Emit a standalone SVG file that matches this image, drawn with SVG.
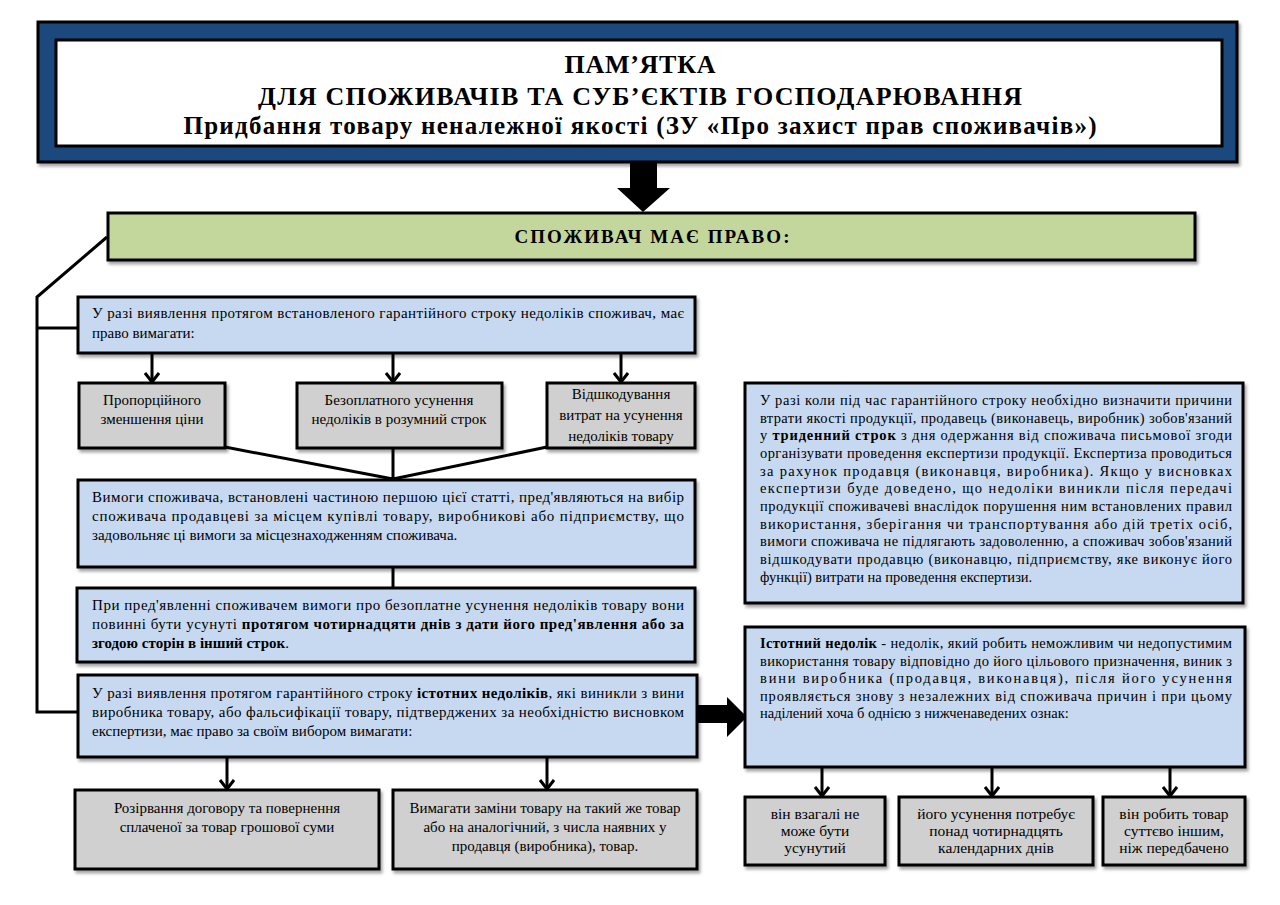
<svg xmlns="http://www.w3.org/2000/svg" width="1280" height="905" viewBox="0 0 1280 905">
<defs>
<style>
.t{font-family:"Liberation Serif","Times New Roman",serif;font-size:15px;fill:#000}
.r{font-size:14.5px}
.g{font-size:15.5px}
.h{font-size:26px}
.h3{font-size:25px}
.gh{font-size:19px}
.b{font-weight:bold}
.c{text-anchor:middle}
.box{stroke:#000;stroke-width:3}
.blue{fill:#C6D9F1}
.gray{fill:#D0D0D0}
.green{fill:#C3D69B}
.navy{fill:#1F497D}
.ln{fill:none;stroke:#000;stroke-width:3}
.ar{fill:none;stroke:#000;stroke-width:3;marker-end:url(#arr)}
</style>
<filter id="sh" x="-5%" y="-5%" width="110%" height="120%">
<feDropShadow dx="2" dy="3" stdDeviation="1.5" flood-color="#000" flood-opacity="0.35"/>
</filter>
<marker id="arr" viewBox="0 0 14 16" refX="11" refY="8" markerWidth="14" markerHeight="16" markerUnits="userSpaceOnUse" orient="auto">
<path d="M2,1 L11,8 L2,15" fill="none" stroke="#000" stroke-width="3"/>
</marker>
</defs>
<rect width="1280" height="905" fill="#fff"/>

<g id="title">
<rect class="box navy" x="38" y="22" width="1199" height="140" filter="url(#sh)"/>
<rect class="box" x="56" y="40" width="1166" height="106" fill="#fff"/>
<text class="t h b c" x="640" y="73" textLength="151">ПАМ’ЯТКА</text>
<text class="t h b c" x="640" y="105" textLength="764">ДЛЯ СПОЖИВАЧІВ ТА СУБ’ЄКТІВ ГОСПОДАРЮВАННЯ</text>
<text class="t h3 b c" x="640" y="134" textLength="913">Придбання товару неналежної якості (ЗУ «Про захист прав споживачів»)</text>
</g>

<g id="connectors">
<polygon points="630,161 657,161 657,188 670,188 643,212 617,188 630,188" fill="#000"/>
<polygon points="697,705 727,705 727,697 747,717 727,737 727,723 697,723" fill="#000"/>
<path class="ln" d="M107,237 L37,297 L37,712 L78,712"/>
<path class="ln" d="M37,328 L79,328"/>
<path class="ar" d="M152,353 L152,382"/>
<path class="ar" d="M393,353 L393,382"/>
<path class="ar" d="M621,353 L621,382"/>
<path class="ln" d="M225,447 L393,479 M393,448 L393,479 M547,447 L393,479"/>
<path class="ln" d="M393,567 L393,588"/>
<path class="ar" d="M227,757 L227,789"/>
<path class="ar" d="M547,757 L547,789"/>
<path class="ar" d="M822,767 L822,796"/>
<path class="ar" d="M992,767 L992,796"/>
<path class="ar" d="M1170,767 L1170,796"/>
</g>

<g id="consumer-right">
<rect class="box green" x="108" y="213" width="1087" height="47" filter="url(#sh)"/>
<text class="t gh b c" x="652" y="243" textLength="275">СПОЖИВАЧ МАЄ ПРАВО:</text>
</g>

<g id="warranty-defects">
<rect class="box blue" x="78" y="297" width="617" height="56" filter="url(#sh)"/>
<text class="t" x="92" y="318" textLength="592">У разі виявлення протягом встановленого гарантійного строку недоліків споживач, має</text>
<text class="t" x="92" y="338">право вимагати:</text>
</g>

<g id="price-reduction">
<rect class="box gray" x="79" y="383" width="146" height="65" filter="url(#sh)"/>
<text class="t c" x="152" y="405">Пропорційного</text>
<text class="t c" x="152" y="424">зменшення ціни</text>
</g>

<g id="free-repair">
<rect class="box gray" x="297" y="383" width="205" height="65" filter="url(#sh)"/>
<text class="t c" x="399" y="405">Безоплатного усунення</text>
<text class="t c" x="399" y="424">недоліків в розумний строк</text>
</g>

<g id="repair-costs">
<rect class="box gray" x="547" y="383" width="148" height="65" filter="url(#sh)"/>
<text class="t c" x="621" y="399">Відшкодування</text>
<text class="t c" x="621" y="420">витрат на усунення</text>
<text class="t c" x="621" y="441">недоліків товару</text>
</g>

<g id="claims-place">
<rect class="box blue" x="78" y="480" width="617" height="87" filter="url(#sh)"/>
<text class="t" x="92" y="502" textLength="592">Вимоги споживача, встановлені частиною першою цієї статті, пред'являються на вибір</text>
<text class="t" x="92" y="521" textLength="592">споживача продавцеві за місцем купівлі товару, виробникові або підприємству, що</text>
<text class="t" x="92" y="540">задовольняє ці вимоги за місцезнаходженням споживача.</text>
</g>

<g id="fourteen-days">
<rect class="box blue" x="77" y="588" width="618" height="74" filter="url(#sh)"/>
<text class="t" x="92" y="610" textLength="592">При пред'явленні споживачем вимоги про безоплатне усунення недоліків товару вони</text>
<text class="t" x="92" y="629" textLength="592">повинні бути усунуті <tspan class="b">протягом чотирнадцяти днів з дати його пред'явлення або за</tspan></text>
<text class="t" x="92" y="648"><tspan class="b">згодою сторін в інший строк</tspan>.</text>
</g>

<g id="essential-defects-claim">
<rect class="box blue" x="78" y="675" width="619" height="82" filter="url(#sh)"/>
<text class="t" x="92" y="698" textLength="592">У разі виявлення протягом гарантійного строку <tspan class="b">істотних недоліків</tspan>, які виникли з вини</text>
<text class="t" x="92" y="717" textLength="592">виробника товару, або фальсифікації товару, підтверджених за необхідністю висновком</text>
<text class="t" x="92" y="736">експертизи, має право за своїм вибором вимагати:</text>
</g>

<g id="contract-termination">
<rect class="box gray" x="75" y="790" width="304" height="79" filter="url(#sh)"/>
<text class="t c" x="227" y="813">Розірвання договору та повернення</text>
<text class="t c" x="227" y="832">сплаченої за товар грошової суми</text>
</g>

<g id="replacement">
<rect class="box gray" x="393" y="790" width="304" height="79" filter="url(#sh)"/>
<text class="t c" x="545" y="813">Вимагати заміни товару на такий же товар</text>
<text class="t c" x="545" y="832">або на аналогічний, з числа наявних у</text>
<text class="t c" x="545" y="851">продавця (виробника), товар.</text>
</g>

<g id="expertise">
<rect class="box blue" x="745" y="383" width="498" height="220" filter="url(#sh)"/>
<text class="t r" x="760" y="405" textLength="472">У разі коли під час гарантійного строку необхідно визначити причини</text>
<text class="t r" x="760" y="422.7" textLength="472">втрати якості продукції, продавець (виконавець, виробник) зобов'язаний</text>
<text class="t r" x="760" y="440.3" textLength="472">у <tspan class="b">триденний строк</tspan> з дня одержання від споживача письмової згоди</text>
<text class="t r" x="760" y="458" textLength="472">організувати проведення експертизи продукції. Експертиза проводиться</text>
<text class="t r" x="760" y="475.7" textLength="472">за рахунок продавця (виконавця, виробника). Якщо у висновках</text>
<text class="t r" x="760" y="493.3" textLength="472">експертизи буде доведено, що недоліки виникли після передачі</text>
<text class="t r" x="760" y="511" textLength="472">продукції споживачеві внаслідок порушення ним встановлених правил</text>
<text class="t r" x="760" y="528.7" textLength="472">використання, зберігання чи транспортування або дій третіх осіб,</text>
<text class="t r" x="760" y="546.3" textLength="472">вимоги споживача не підлягають задоволенню, а споживач зобов'язаний</text>
<text class="t r" x="760" y="564" textLength="472">відшкодувати продавцю (виконавцю, підприємству, яке виконує його</text>
<text class="t r" x="760" y="581.7">функції) витрати на проведення експертизи.</text>
</g>

<g id="essential-defect">
<rect class="box blue" x="745" y="627" width="500" height="140" filter="url(#sh)"/>
<text class="t r" x="760" y="648" textLength="472"><tspan class="b">Істотний недолік</tspan> - недолік, який робить неможливим чи недопустимим</text>
<text class="t r" x="760" y="665.5" textLength="472">використання товару відповідно до його цільового призначення, виник з</text>
<text class="t r" x="760" y="683" textLength="472">вини виробника (продавця, виконавця), після його усунення</text>
<text class="t r" x="760" y="700.5" textLength="472">проявляється знову з незалежних від споживача причин і при цьому</text>
<text class="t r" x="760" y="718">наділений хоча б однією з нижченаведених ознак:</text>
</g>

<g id="not-removable">
<rect class="box gray" x="745" y="797" width="140" height="68" filter="url(#sh)"/>
<text class="t g c" x="815" y="819">він взагалі не</text>
<text class="t g c" x="815" y="836">може бути</text>
<text class="t g c" x="815" y="853">усунутий</text>
</g>

<g id="over-fourteen-days">
<rect class="box gray" x="899" y="797" width="194" height="68" filter="url(#sh)"/>
<text class="t g c" x="996" y="819">його усунення потребує</text>
<text class="t g c" x="996" y="836">понад чотирнадцять</text>
<text class="t g c" x="996" y="853">календарних днів</text>
</g>

<g id="different-product">
<rect class="box gray" x="1103" y="797" width="142" height="68" filter="url(#sh)"/>
<text class="t g c" x="1174" y="819">він робить товар</text>
<text class="t g c" x="1174" y="836">суттєво іншим,</text>
<text class="t g c" x="1174" y="853">ніж передбачено</text>
</g>
</svg>
